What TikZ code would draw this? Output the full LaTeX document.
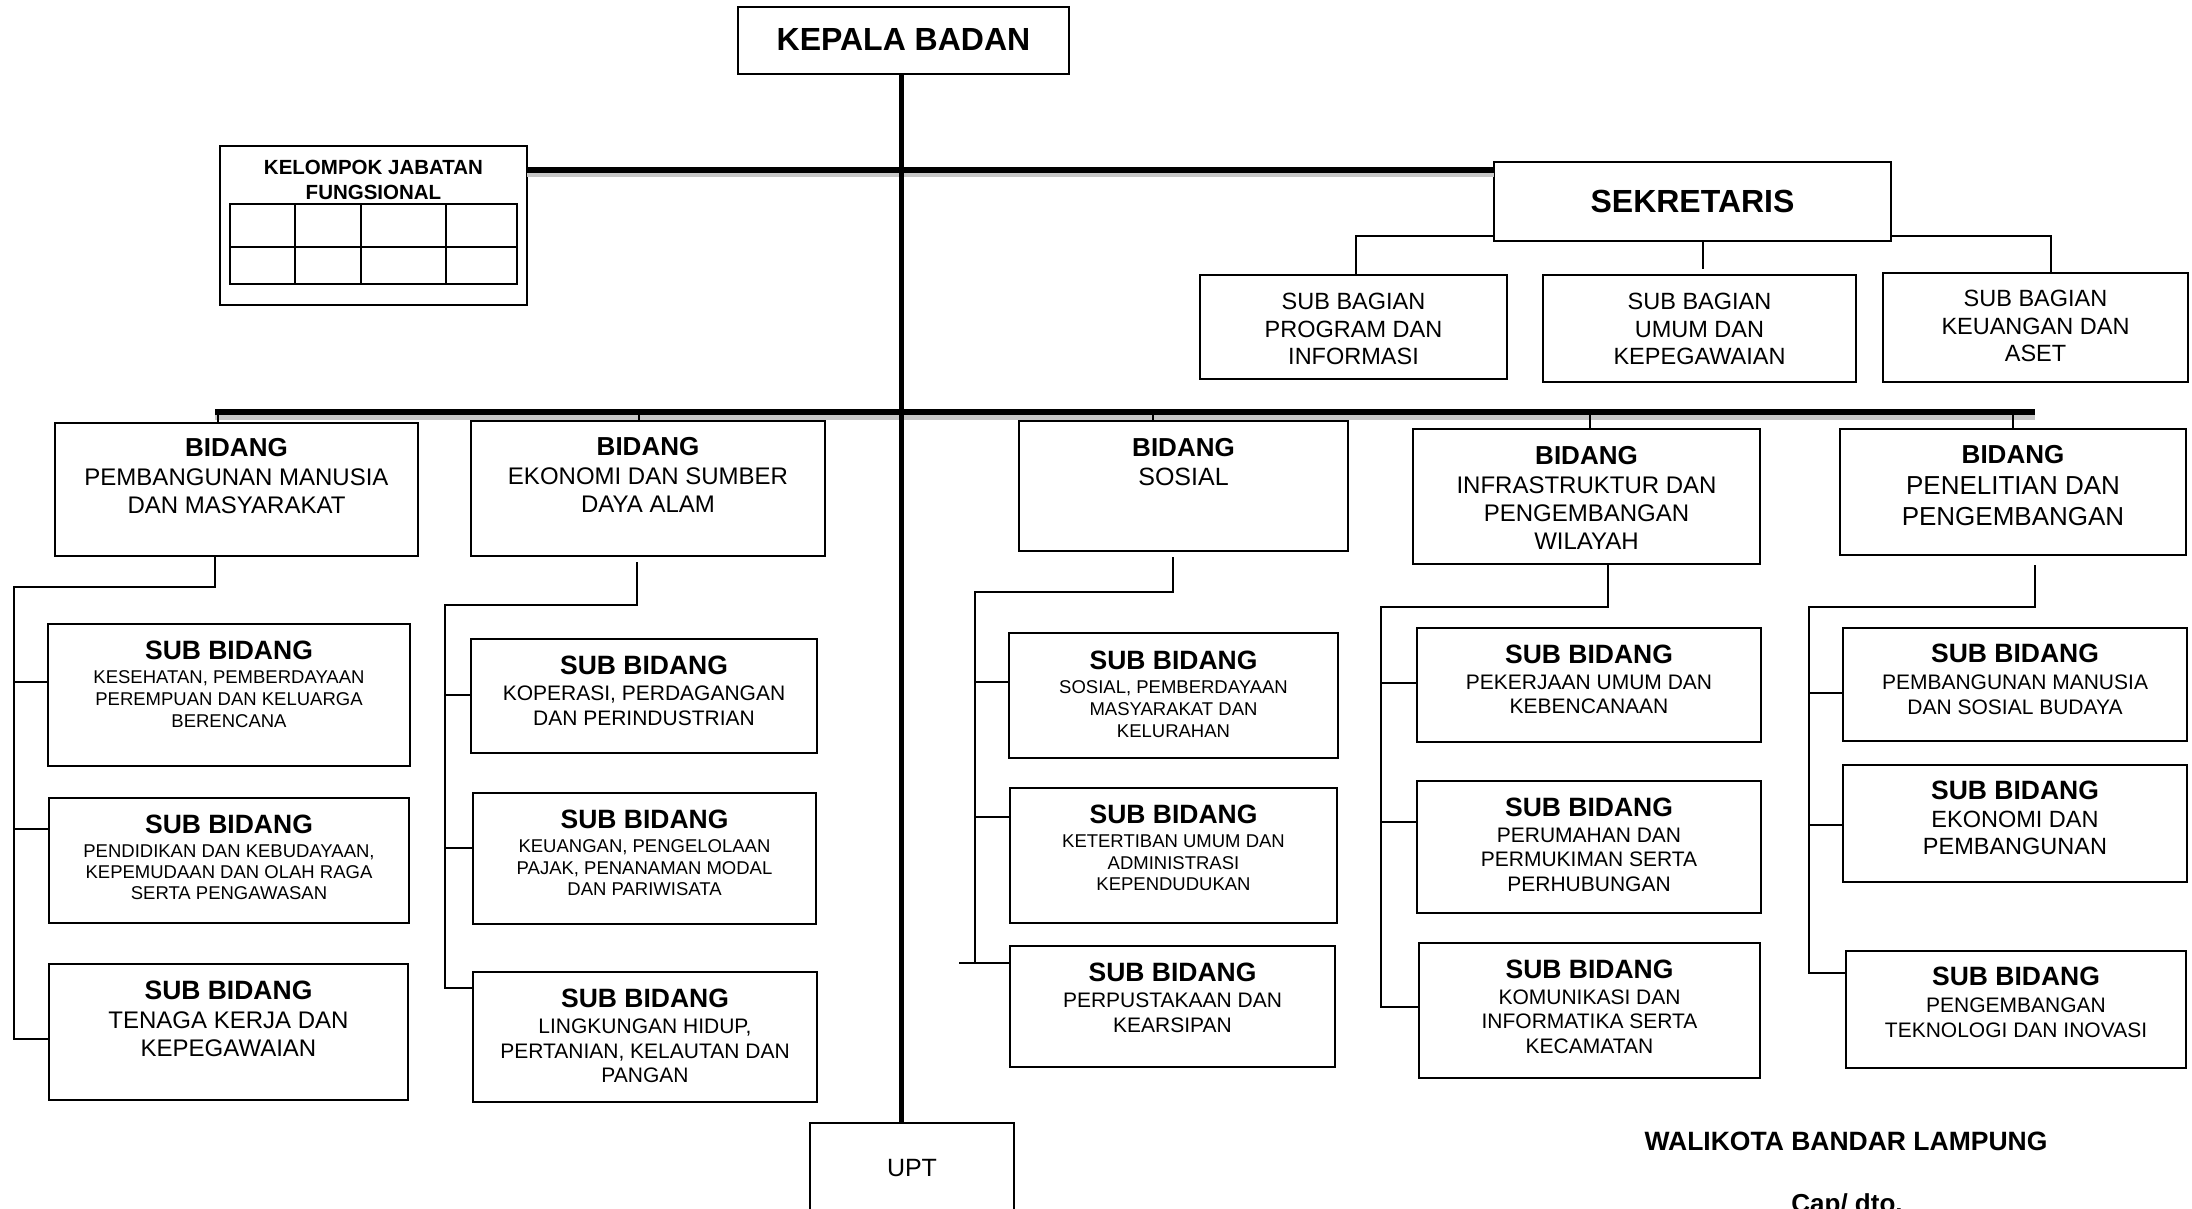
\documentclass[tikz,border=0pt]{standalone}
\usepackage{fontspec}
\setmainfont{Liberation Sans}
\usetikzlibrary{fit}
\newcommand\fsz[2]{\fontsize{#1}{#2}\selectfont}
\newcommand\sbtitle{{\bfseries\fsz{26.5}{30}SUB BIDANG}}
\begin{document}
\begin{tikzpicture}[x=1pt,y=-1pt,
  box/.style={draw, line width=2.2pt, inner sep=0pt, outer sep=0pt},
  conn/.style={line width=2.2pt},
  trunk/.style={line width=5.5pt},
  shade/.style={line width=5pt, draw=black!22},
  txt/.style={anchor=north, align=center, inner sep=0pt, outer sep=0pt},
  lbl/.style={inner sep=0pt, outer sep=0pt},
]
\path[use as bounding box] (0,0) rectangle (2192,1209);
\clip (0,0) rectangle (2192,1209);
\fill[white] (0,0) rectangle (2192,1209);

% ---------- boxes ----------
\node[box, fit={(738,7) (1069,74)}] (kepala) {};
\node[box, fit={(220,146) (527,305)}] (kjf) {};
\node[box, fit={(1494,162) (1891,241)}] (sek) {};
\node[box, fit={(1200,275) (1507,379)}] (sbg1) {};
\node[box, fit={(1543,275) (1856,382)}] (sbg2) {};
\node[box, fit={(1883,273) (2188,382)}] (sbg3) {};
\node[box, fit={(55,423) (418,556)}] (b1) {};
\node[box, fit={(471,421) (825,556)}] (b2) {};
\node[box, fit={(1019,421) (1348,551)}] (b3) {};
\node[box, fit={(1413,429) (1760,564)}] (b4) {};
\node[box, fit={(1840,429) (2186,555)}] (b5) {};
\node[box, fit={(48,624) (410,766)}] (sb11) {};
\node[box, fit={(49,798) (409,923)}] (sb12) {};
\node[box, fit={(49,964) (408,1100)}] (sb13) {};
\node[box, fit={(471,639) (817,753)}] (sb21) {};
\node[box, fit={(473,793) (816,924)}] (sb22) {};
\node[box, fit={(473,972) (817,1102)}] (sb23) {};
\node[box, fit={(1009,633) (1338,758)}] (sb31) {};
\node[box, fit={(1010,788) (1337,923)}] (sb32) {};
\node[box, fit={(1010,946) (1335,1067)}] (sb33) {};
\node[box, fit={(1417,628) (1761,742)}] (sb41) {};
\node[box, fit={(1417,781) (1761,913)}] (sb42) {};
\node[box, fit={(1419,943) (1760,1078)}] (sb43) {};
\node[box, fit={(1843,628) (2187,741)}] (sb51) {};
\node[box, fit={(1843,765) (2187,882)}] (sb52) {};
\node[box, fit={(1846,951) (2186,1068)}] (sb53) {};
\node[box, fit={(810,1123) (1014,1250)}] (upt) {};

% ---------- KJF grid ----------
\draw[line width=1.6pt] (230,204) rectangle (517,284);
\draw[line width=1.6pt] (230,247) -- (517,247);
\foreach \gx in {295,361,446} \draw[line width=1.6pt] (\gx,204) -- (\gx,284);

% ---------- trunk lines ----------
\coordinate (tx) at (901,0);
\coordinate (sy) at (0,170);
\coordinate (sy2) at (0,175);
\draw[shade] (kjf.east |- sy2) -- (sek.west |- sy2);
\draw[trunk] (kjf.east |- sy) -- (sek.west |- sy);
\coordinate (bl) at (215,412);
\coordinate (br) at (2035,412);
\coordinate (bl2) at (215,417);
\coordinate (br2) at (2035,417);
\draw[shade] (bl2) -- (br2);
\draw[trunk] (bl) -- (br);
\draw[line width=5pt] (kepala.south -| tx) -- (upt.north -| tx);

% ---------- sekretaris branches ----------
\coordinate (sl) at (1356,236);
\coordinate (sm) at (1703,269);
\coordinate (sr) at (2051,236);
\draw[conn] (sek.west |- sl) -- (sl) -- (sl |- sbg1.north);
\draw[conn] (sm |- sek.south) -- (sm);
\draw[conn] (sek.east |- sr) -- (sr) -- (sr |- sbg3.north);

% ---------- bidang ticks ----------
\coordinate (t1) at (218,412);
\coordinate (t2) at (639,412);
\coordinate (t3) at (1153,412);
\coordinate (t4) at (1590,412);
\coordinate (t5) at (2013,412);
\draw[conn] (t1) -- (t1 |- b1.north);
\draw[conn] (t2) -- (t2 |- b2.north);
\draw[conn] (t3) -- (t3 |- b3.north);
\draw[conn] (t4) -- (t4 |- b4.north);
\draw[conn] (t5) -- (t5 |- b5.north);

% ---------- column 1 ----------
\coordinate (c1a) at (215,587);
\coordinate (c1b) at (14,587);
\coordinate (c1p) at (14,682);
\coordinate (c1q) at (14,829);
\coordinate (c1e) at (14,1039);
\draw[conn] (c1a |- b1.south) -- (c1a) -- (c1b) -- (c1e) -- (c1e -| sb13.west);
\draw[conn] (c1p) -- (c1p -| sb11.west);
\draw[conn] (c1q) -- (c1q -| sb12.west);

% ---------- column 2 ----------
\coordinate (c2s) at (637,562);
\coordinate (c2a) at (637,605);
\coordinate (c2b) at (445,605);
\coordinate (c2p) at (445,695);
\coordinate (c2q) at (445,848);
\coordinate (c2e) at (445,988);
\draw[conn] (c2s) -- (c2a) -- (c2b) -- (c2e) -- (c2e -| sb23.west);
\draw[conn] (c2p) -- (c2p -| sb21.west);
\draw[conn] (c2q) -- (c2q -| sb22.west);

% ---------- column 3 ----------
\coordinate (c3s) at (1173,557);
\coordinate (c3a) at (1173,592);
\coordinate (c3b) at (975,592);
\coordinate (c3p) at (975,682);
\coordinate (c3q) at (975,817);
\coordinate (c3e) at (975,963);
\coordinate (c3x) at (959,963);
\draw[conn] (c3s) -- (c3a) -- (c3b) -- (c3e);
\draw[conn] (c3x) -- (c3x -| sb33.west);
\draw[conn] (c3p) -- (c3p -| sb31.west);
\draw[conn] (c3q) -- (c3q -| sb32.west);

% ---------- column 4 ----------
\coordinate (c4a) at (1608,607);
\coordinate (c4b) at (1381,607);
\coordinate (c4p) at (1381,683);
\coordinate (c4q) at (1381,822);
\coordinate (c4e) at (1381,1007);
\draw[conn] (c4a |- b4.south) -- (c4a) -- (c4b) -- (c4e) -- (c4e -| sb43.west);
\draw[conn] (c4p) -- (c4p -| sb41.west);
\draw[conn] (c4q) -- (c4q -| sb42.west);

% ---------- column 5 ----------
\coordinate (c5s) at (2035,565);
\coordinate (c5a) at (2035,607);
\coordinate (c5b) at (1809,607);
\coordinate (c5p) at (1809,693);
\coordinate (c5q) at (1809,825);
\coordinate (c5e) at (1809,973);
\draw[conn] (c5s) -- (c5a) -- (c5b) -- (c5e) -- (c5e -| sb53.west);
\draw[conn] (c5p) -- (c5p -| sb51.west);
\draw[conn] (c5q) -- (c5q -| sb52.west);

% ---------- texts ----------
\node[lbl, font=\bfseries\fsz{32}{38}] (tkepala) at (903.5,39) {KEPALA BADAN};
\path (kjf.north) ++(0,14) node[txt, font=\bfseries\fsz{20.5}{25}] (tkjf) {KELOMPOK JABATAN\\FUNGSIONAL};
\node[lbl, font=\bfseries\fsz{32}{38}] (tsek) at (1692.5,201) {SEKRETARIS};

\path (sbg1.north) ++(0,18.5) node[txt, font=\fsz{23.5}{27.5}] (tsbg1) {SUB BAGIAN\\PROGRAM DAN\\INFORMASI};
\path (sbg2.north) ++(0,18.5) node[txt, font=\fsz{23.5}{27.5}] (tsbg2) {SUB BAGIAN\\UMUM DAN\\KEPEGAWAIAN};
\path (sbg3.north) ++(0,17.5) node[txt, font=\fsz{23.5}{27.5}] (tsbg3) {SUB BAGIAN\\KEUANGAN DAN\\ASET};

\path (b1.north) ++(0,15.5) node[txt, font=\fsz{24}{28}] (tb1) {{\bfseries\fsz{26}{30}BIDANG}\\[1pt]PEMBANGUNAN MANUSIA\\DAN MASYARAKAT};
\path (b2.north) ++(0,16) node[txt, font=\fsz{24}{28}] (tb2) {{\bfseries\fsz{26}{30}BIDANG}\\[1pt]EKONOMI DAN SUMBER\\DAYA ALAM};
\path (b3.north) ++(0,17) node[txt, font=\fsz{25}{28}] (tb3) {{\bfseries\fsz{26}{30}BIDANG}\\[1pt]SOSIAL};
\path (b4.north) ++(0,17) node[txt, font=\fsz{24}{28}] (tb4) {{\bfseries\fsz{26}{30}BIDANG}\\[1pt]INFRASTRUKTUR DAN\\PENGEMBANGAN\\WILAYAH};
\path (b5.north) ++(0,16) node[txt, font=\fsz{26}{31}] (tb5) {{\bfseries BIDANG}\\PENELITIAN DAN\\PENGEMBANGAN};

\path (sb11.north) ++(0,17) node[txt, font=\fsz{18.5}{22}] (tsb11) {\sbtitle\\[2pt]KESEHATAN, PEMBERDAYAAN\\PEREMPUAN DAN KELUARGA\\BERENCANA};
\path (sb12.north) ++(0,17) node[txt, font=\fsz{18.5}{21}] (tsb12) {\sbtitle\\[3pt]PENDIDIKAN DAN KEBUDAYAAN,\\KEPEMUDAAN DAN OLAH RAGA\\SERTA PENGAWASAN};
\path (sb13.north) ++(0,17) node[txt, font=\fsz{24}{28}] (tsb13) {\sbtitle\\[1pt]TENAGA KERJA DAN\\KEPEGAWAIAN};

\path (sb21.north) ++(0,17) node[txt, font=\fsz{21}{24.5}] (tsb21) {\sbtitle\\[1.5pt]KOPERASI, PERDAGANGAN\\DAN PERINDUSTRIAN};
\path (sb22.north) ++(0,17) node[txt, font=\fsz{18.5}{21.5}] (tsb22) {\sbtitle\\[2.5pt]KEUANGAN, PENGELOLAAN\\PAJAK, PENANAMAN MODAL\\DAN PARIWISATA};
\path (sb23.north) ++(0,17) node[txt, font=\fsz{21}{24.5}] (tsb23) {\sbtitle\\[1.5pt]LINGKUNGAN HIDUP,\\PERTANIAN, KELAUTAN DAN\\PANGAN};

\path (sb31.north) ++(0,17.5) node[txt, font=\fsz{18.5}{22}] (tsb31) {\sbtitle\\[2pt]SOSIAL, PEMBERDAYAAN\\MASYARAKAT DAN\\KELURAHAN};
\path (sb32.north) ++(0,17) node[txt, font=\fsz{18.5}{21.5}] (tsb32) {\sbtitle\\[2.5pt]KETERTIBAN UMUM DAN\\ADMINISTRASI\\KEPENDUDUKAN};
\path (sb33.north) ++(0,17) node[txt, font=\fsz{21}{24.5}] (tsb33) {\sbtitle\\[1.5pt]PERPUSTAKAAN DAN\\KEARSIPAN};

\path (sb41.north) ++(0,16.5) node[txt, font=\fsz{21}{24.5}] (tsb41) {\sbtitle\\[1.5pt]PEKERJAAN UMUM DAN\\KEBENCANAAN};
\path (sb42.north) ++(0,16.5) node[txt, font=\fsz{21}{24.5}] (tsb42) {\sbtitle\\[1.5pt]PERUMAHAN DAN\\PERMUKIMAN SERTA\\PERHUBUNGAN};
\path (sb43.north) ++(0,16.5) node[txt, font=\fsz{21}{24.5}] (tsb43) {\sbtitle\\[1.5pt]KOMUNIKASI DAN\\INFORMATIKA SERTA\\KECAMATAN};

\path (sb51.north) ++(0,15.5) node[txt, font=\fsz{21}{25}] (tsb51) {\sbtitle\\[2pt]PEMBANGUNAN MANUSIA\\DAN SOSIAL BUDAYA};
\path (sb52.north) ++(0,15.5) node[txt, font=\fsz{23.5}{27}] (tsb52) {\sbtitle\\[1pt]EKONOMI DAN\\PEMBANGUNAN};
\path (sb53.north) ++(0,15.5) node[txt, font=\fsz{21}{25}] (tsb53) {\sbtitle\\[2pt]PENGEMBANGAN\\TEKNOLOGI DAN INOVASI};

\node[lbl, font=\fsz{25}{30}] (tupt) at (912,1168) {UPT};
\node[lbl, font=\bfseries\fsz{26.5}{30}] (twali) at (1846,1141) {WALIKOTA BANDAR LAMPUNG};
\node[lbl, font=\bfseries\fsz{26}{30}, anchor=base] (tcap) at (1847,1212) {Cap/ dto.};
\end{tikzpicture}
\end{document}
